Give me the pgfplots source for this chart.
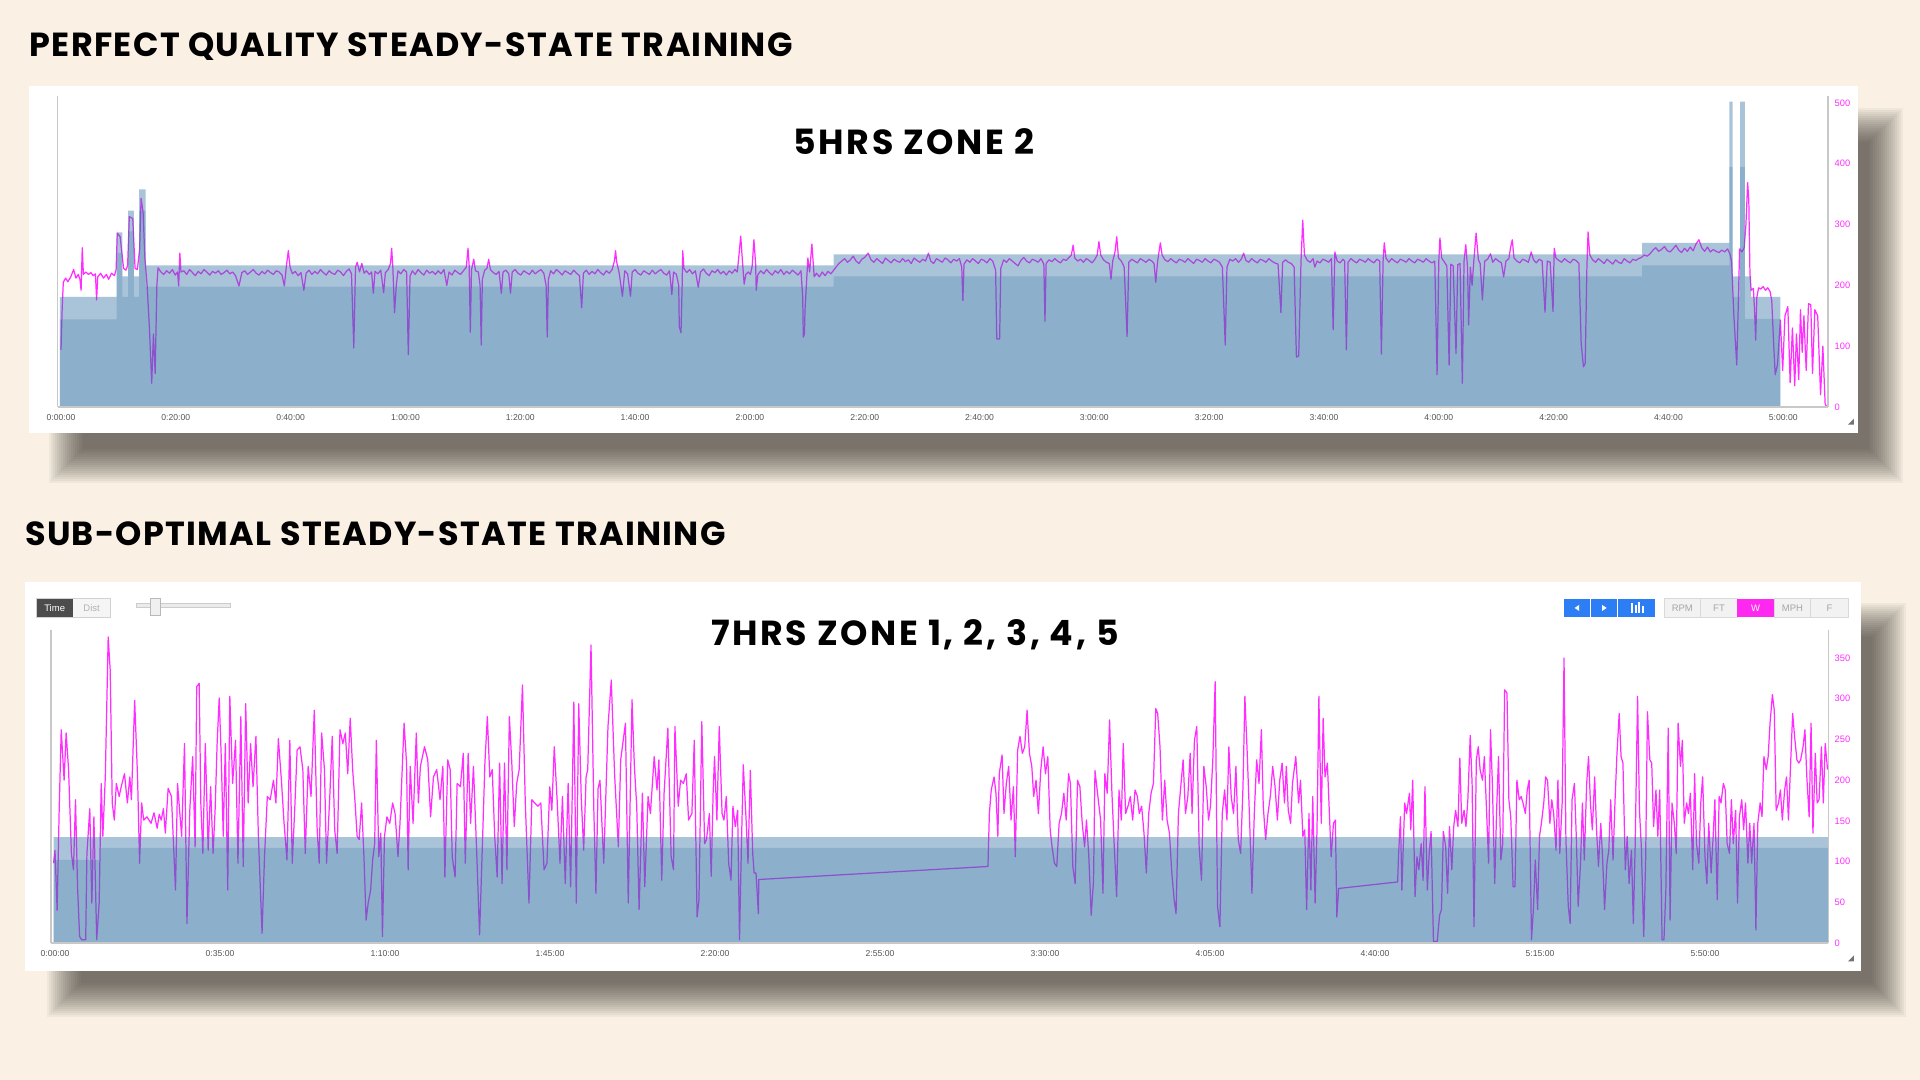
\documentclass[border=0pt]{standalone}
\usepackage{fontspec}
\usepackage{pgfplots}
\pgfplotsset{compat=1.18}
\setmainfont{Liberation Sans}
\newfontfamily\titlefont{Poppins}[LetterSpace=4]
\newfontfamily\paneltitlefont{Poppins}[LetterSpace=7.5]
\definecolor{bg}{RGB}{250,241,228}
\definecolor{shadowc}{RGB}{50,45,40}
\definecolor{zone}{RGB}{48,111,164}
\definecolor{pw}{RGB}{255,45,255}
\definecolor{axgray}{RGB}{200,200,200}
\definecolor{tickgray}{RGB}{85,85,85}
\definecolor{btnblue}{RGB}{45,125,245}
\definecolor{btnmag}{RGB}{255,40,240}
\newcommand\softshadow[4]{%
  \foreach \i in {0,...,17}{%
    \fill[shadowc, opacity=0.051] ({#1-17+2*\i},{#2-17+2*\i}) rectangle ({#3+17-2*\i},{#4+17-2*\i});
  }}
\begin{document}
\begin{tikzpicture}
\useasboundingbox (0,0) rectangle (19.2,10.8);
\fill[bg] (0,0) rectangle (19.2,10.8);
\begin{scope}[x=0.01cm, y=-0.01cm, shift={(0,10.8cm)}]
  \softshadow{66}{125}{1887}{466}
  \softshadow{64}{620}{1890}{1001}
  \fill[white] (29,86) rectangle (1859,433);
  \fill[white] (25,582) rectangle (1862,972);
  % titles
  \node[anchor=base west, inner sep=0pt] at (29,56.7) {\titlefont\bfseries\fontsize{9.5}{11}\selectfont PERFECT QUALITY STEADY-STATE TRAINING};
  \node[anchor=base west, inner sep=0pt] at (24.5,546) {\titlefont\bfseries\fontsize{9.5}{11}\selectfont SUB-OPTIMAL STEADY-STATE TRAINING};
  \node[anchor=base, inner sep=0pt] at (914.5,154.3) {\paneltitlefont\bfseries\fontsize{9.9}{11}\selectfont 5HRS ZONE 2};
  \node[anchor=base, inner sep=0pt] at (915.6,645.7) {\paneltitlefont\bfseries\fontsize{9.9}{11}\selectfont 7HRS ZONE 1, 2, 3, 4, 5};
  % toolbar left
  \fill[black!70] (36,599) rectangle (73.5,617.3);
  \node[text=white, font=\fontsize{2.7}{3}\selectfont] at (54.7,608.2) {Time};
  \fill[black!4] (73.5,599) rectangle (110,617.3);
  \draw[black!18, line width=0.2pt] (36,599) rectangle (110,617.3);
  \node[text=black!30, font=\fontsize{2.7}{3}\selectfont] at (91.7,608.2) {Dist};
  \fill[black!8] (136,603.5) rectangle (230.5,607.5);
  \draw[black!20, line width=0.2pt] (136,603.5) rectangle (230.5,607.5);
  \fill[black!6] (150,598.5) rectangle (160,615.5);
  \draw[black!28, line width=0.2pt] (150,598.5) rectangle (160,615.5);
  % toolbar right
  \fill[btnblue] (1565,599) rectangle (1591,617.7);
  \fill[btnblue] (1592,599) rectangle (1618,617.7);
  \fill[btnblue] (1619,599) rectangle (1655.5,617.7);
  \fill[white] (1575.5,608.3) -- (1580,605.3) -- (1580,611.3) -- cycle;
  \fill[white] (1603,605.3) -- (1603,611.3) -- (1607.5,608.3) -- cycle;
  \fill[white] (1632,603) rectangle (1634,613);
  \fill[white] (1635.5,605.5) rectangle (1637.5,613);
  \fill[white] (1639,602.5) rectangle (1641,613);
  \fill[white] (1642.5,606) rectangle (1644.5,613);
  \foreach \a/\b/\t in {1665/1701.6/RPM,1701.6/1738.4/FT,1775/1811.8/MPH,1811.8/1849.4/F}{
    \fill[black!5] (\a,599) rectangle (\b,617.7);
    \draw[black!15, line width=0.2pt] (\a,599) rectangle (\b,617.7);
    \node[text=black!35, font=\fontsize{2.7}{3}\selectfont] at ({(\a+\b)/2},608.3) {\t};
  }
  \fill[btnmag] (1738.4,599) rectangle (1775,617.7);
  \node[text=white, font=\fontsize{2.7}{3}\selectfont] at (1756.7,608.3) {W};
  % resize grips
  \fill[black!55] (1855,419) -- (1855,425) -- (1849,425) -- cycle;
  \fill[black!55] (1855,956) -- (1855,962) -- (1849,962) -- cycle;
\end{scope}

% ---------------- top chart ----------------
\begin{scope}
\clip (0,0) rectangle (18.50,10.8);
\begin{axis}[
  at={(0.575cm,6.73cm)}, anchor=south west,
  width=17.705cm, height=3.11cm, scale only axis,
  xmin=-0.61, xmax=307.8, ymin=0, ymax=511.5,
  axis line style={draw=none}, tick style={draw=none},
  xtick={0,20,...,300},
  xticklabels={0:00:00,0:20:00,0:40:00,1:00:00,1:20:00,1:40:00,2:00:00,2:20:00,2:40:00,3:00:00,3:20:00,3:40:00,4:00:00,4:20:00,4:40:00,5:00:00},
  ytick={0,100,...,500}, yticklabels={0,100,200,300,400,500},
  yticklabel pos=right,
  xticklabel style={font=\fontsize{2.45}{3}\selectfont, text=tickgray, anchor=center, yshift=-0.107cm},
  yticklabel style={font=\fontsize{2.65}{3}\selectfont, text=pw, anchor=west, inner sep=0pt, xshift=0.06cm},
  clip=false,
]
\addplot[pw, line width=0.35pt, line join=round] coordinates {
(0,94) (0.2,160) (0.4,205) (0.8,212) (1.2,206) (1.7,214) (2.2,226) (2.6,212) (3.0,218) (3.3,210) (3.5,192) (3.7,262) (3.9,218) (4.3,222) (4.8,218) (5.2,221) (5.6,216) (6.0,219) (6.2,176) (6.4,214) (6.9,220) (7.4,212) (7.9,218) (8.3,210) (8.8,220) (9.3,216) (9.6,226) (9.8,286) (10.3,280) (10.9,228) (11.3,225) (11.6,232) (11.9,313) (12.5,310) (12.9,228) (13.3,226) (13.7,260) (13.95,343) (14.3,320) (14.6,247) (15.0,200) (15.4,130) (15.8,39) (16.1,120) (16.4,55) (16.7,200) (16.9,229) (17.4,222) (17.9,218) (18.4,224) (18.9,220) (19.4,226) (19.9,217) (20.3,222) (20.5,199) (20.7,253) (20.9,222) (21.4,224) (21.9,218) (22.4,226) (22.9,221) (23.4,216) (23.9,223) (24.4,219) (24.9,226) (25.4,222) (25.9,217) (26.4,223) (26.9,220) (27.4,224) (27.9,218) (28.4,221) (28.9,225) (29.4,219) (29.9,222) (30.4,216) (31.0,199) (31.5,221) (32.0,224) (32.5,218) (33.0,222) (33.5,226) (34.0,220) (34.5,217) (35.0,223) (35.5,219) (36.0,225) (36.5,221) (37.0,218) (37.5,224) (38.0,222) (38.5,217) (38.9,199) (39.3,235) (39.6,257) (39.9,230) (40.3,219) (40.8,223) (41.3,216) (41.8,221) (42.3,192) (42.7,220) (43.2,225) (43.7,218) (44.2,223) (44.7,219) (45.2,226) (45.7,221) (46.2,217) (46.7,224) (47.2,220) (47.7,218) (48.2,225) (48.7,222) (49.2,216) (49.7,223) (50.2,227) (50.6,219) (51.0,97) (51.3,230) (51.6,238) (52.0,222) (52.4,236) (52.8,220) (53.2,224) (53.7,218) (54.1,222) (54.4,187) (54.7,223) (55.2,219) (55.7,225) (56.2,188) (56.5,221) (57.0,226) (57.4,236) (57.6,261) (57.8,230) (58.1,155) (58.4,200) (58.7,224) (59.2,219) (59.7,226) (60.2,222) (60.5,86) (60.8,215) (61.2,224) (61.7,218) (62.2,226) (62.7,221) (63.2,217) (63.7,225) (64.2,220) (64.7,223) (65.2,218) (65.7,224) (66.2,219) (66.7,226) (67.2,200) (67.6,222) (68.1,217) (68.6,225) (69.1,221) (69.6,218) (70.1,224) (70.6,230) (70.9,261) (71.1,232) (71.3,123) (71.5,225) (71.9,243) (72.2,224) (72.7,222) (73.0,200) (73.2,102) (73.4,210) (73.8,225) (74.2,228) (74.5,243) (74.8,226) (75.3,221) (75.8,218) (76.3,223) (76.7,187) (77.0,222) (77.5,225) (78.0,219) (78.3,187) (78.6,222) (79.1,226) (79.6,220) (80.1,217) (80.6,224) (81.1,221) (81.6,218) (82.1,225) (82.6,219) (83.1,223) (83.6,226) (84.1,220) (84.5,200) (84.7,115) (84.9,210) (85.3,224) (85.8,219) (86.3,226) (86.8,222) (87.3,217) (87.8,224) (88.3,221) (88.8,218) (89.3,225) (89.8,220) (90.3,216) (90.7,163) (91.0,220) (91.5,225) (92.0,218) (92.5,223) (93.0,219) (93.5,226) (94.0,221) (94.5,217) (95.0,224) (95.5,220) (96.0,226) (96.4,240) (96.6,257) (96.8,238) (97.2,222) (97.8,182) (98.2,224) (98.7,219) (99.2,182) (99.5,222) (100.0,226) (100.5,220) (101.0,217) (101.5,224) (102.0,221) (102.5,218) (103.0,225) (103.5,219) (104.0,223) (104.5,226) (105.0,220) (105.5,217) (106.0,224) (106.4,185) (106.7,222) (107.2,218) (107.6,200) (107.7,132) (108.0,122) (108.2,200) (108.3,257) (108.5,228) (109.0,221) (109.5,226) (110.0,219) (110.5,224) (111.0,197) (111.4,222) (111.9,227) (112.4,220) (112.9,216) (113.4,224) (113.9,221) (114.4,226) (114.9,219) (115.4,223) (115.9,217) (116.4,224) (116.9,220) (117.4,226) (117.8,222) (118.1,250) (118.4,281) (118.7,240) (119.0,202) (119.3,218) (119.7,222) (120.1,218) (120.4,232) (120.7,275) (121.0,235) (121.1,192) (121.4,218) (121.9,224) (122.4,219) (122.9,226) (123.4,221) (123.9,217) (124.4,224) (124.9,220) (125.4,226) (125.9,218) (126.4,223) (126.9,219) (127.4,225) (127.9,221) (128.4,217) (128.9,224) (129.2,180) (129.3,115) (129.5,120) (129.6,160) (130.1,245) (130.4,222) (130.8,268) (131.2,214) (131.6,220) (132.1,214) (132.6,222) (133.1,216) (133.6,223) (134.1,219) (134.6,225) (135.0,230) (135.5,236) (136.0,240) (136.5,244) (137.0,238) (137.5,242) (138.0,248) (138.5,240) (139.0,236) (139.5,243) (140.0,246) (140.6,253) (141.1,242) (141.6,238) (142.1,244) (142.6,240) (143.1,236) (143.6,245) (144.1,241) (144.6,237) (145.1,243) (145.6,240) (146.1,238) (146.6,244) (147.1,239) (147.6,242) (148.1,236) (148.6,245) (149.1,241) (149.6,238) (150.1,243) (150.6,240) (151.1,253) (151.5,240) (152.0,236) (152.5,244) (153.0,241) (153.5,238) (154.0,245) (154.5,242) (155.0,237) (155.5,243) (156.0,240) (156.5,244) (156.9,230) (157.1,175) (157.3,235) (157.8,242) (158.3,238) (158.8,244) (159.3,240) (159.8,236) (160.3,243) (160.8,241) (161.3,237) (161.8,244) (162.3,240) (162.8,225) (163.0,112) (163.5,112) (163.7,228) (164.2,242) (164.7,238) (165.2,244) (165.7,240) (166.2,236) (166.7,232) (167.2,241) (167.7,246) (168.2,240) (168.7,237) (169.2,243) (169.7,241) (170.2,238) (170.7,244) (171.2,235) (171.4,141) (171.6,236) (172.1,242) (172.6,239) (173.1,244) (173.6,240) (174.1,237) (174.6,243) (175.1,241) (175.6,246) (176.0,250) (176.3,266) (176.6,245) (177.1,240) (177.6,243) (178.1,238) (178.6,244) (179.1,241) (179.6,237) (180.1,243) (180.5,250) (180.8,272) (181.1,250) (181.6,242) (182.1,238) (182.6,236) (182.9,210) (183.2,240) (183.6,255) (183.9,280) (184.2,245) (184.7,240) (185.2,230) (185.7,116) (186.0,238) (186.5,243) (187.0,240) (187.5,237) (188.0,244) (188.5,241) (189.0,238) (189.5,243) (190.0,240) (190.4,236) (190.7,205) (191.0,238) (191.5,270) (191.8,250) (192.3,242) (192.8,239) (193.3,244) (193.8,240) (194.3,237) (194.8,243) (195.3,241) (195.8,238) (196.3,244) (196.8,240) (197.3,236) (197.8,243) (198.3,241) (198.8,238) (199.3,244) (199.8,240) (200.3,237) (200.8,243) (201.3,241) (201.8,238) (202.3,230) (202.8,102) (203.1,230) (203.6,243) (204.1,240) (204.6,244) (205.1,238) (205.6,243) (206.0,253) (206.4,241) (206.9,238) (207.4,244) (207.9,240) (208.4,237) (208.9,243) (209.4,241) (209.9,238) (210.4,244) (210.9,240) (211.4,237) (212.0,235) (212.5,155) (212.8,238) (213.3,242) (213.8,238) (214.3,236) (214.8,230) (215.2,82) (215.6,84) (216.0,240) (216.3,307) (216.6,250) (217.1,241) (217.6,238) (218.1,244) (218.4,230) (218.8,240) (219.3,237) (219.8,243) (220.3,241) (220.8,238) (221.3,244) (221.6,127) (221.9,255) (222.3,240) (222.8,237) (223.3,243) (223.6,240) (223.9,94) (224.2,238) (224.7,244) (225.2,240) (225.7,237) (226.2,243) (226.7,241) (227.2,238) (227.7,244) (228.2,240) (228.7,237) (229.2,243) (229.7,240) (230.0,87) (230.3,240) (230.5,270) (230.8,245) (231.3,238) (231.8,244) (232.3,240) (232.8,237) (233.3,243) (233.8,241) (234.3,238) (234.8,244) (235.3,240) (235.8,237) (236.3,243) (236.8,241) (237.3,238) (237.8,244) (238.3,240) (238.8,237) (239.3,240) (239.7,53) (240.0,240) (240.2,278) (240.5,245) (241.0,238) (241.4,232) (241.8,69) (242.1,235) (242.5,232) (243.0,88) (243.3,234) (243.7,236) (244.1,39) (244.4,240) (244.7,267) (245.0,230) (245.2,135) (245.5,230) (245.8,200) (246.1,240) (246.5,286) (246.9,242) (247.2,236) (247.6,176) (248.0,240) (248.5,243) (249.0,252) (249.4,238) (249.9,244) (250.4,240) (250.9,237) (251.3,214) (251.7,240) (252.2,244) (252.5,262) (252.8,275) (253.1,245) (253.6,240) (254.1,237) (254.6,243) (255.1,241) (255.6,238) (256.1,255) (256.5,242) (257.0,237) (257.5,243) (258.0,240) (258.5,156) (258.9,240) (259.4,238) (259.9,157) (260.1,261) (260.4,245) (260.9,241) (261.4,238) (261.9,244) (262.4,240) (262.9,237) (263.4,243) (263.9,241) (264.4,236) (264.8,105) (265.2,66) (265.5,72) (265.8,230) (266.0,288) (266.3,250) (266.8,242) (267.3,238) (267.8,244) (268.3,240) (268.8,236) (269.3,243) (269.8,239) (270.3,235) (270.8,242) (271.3,238) (271.8,236) (272.3,244) (272.8,240) (273.3,237) (273.8,243) (274.3,241) (274.8,244) (275.3,246) (275.8,250) (276.3,248) (276.8,252) (277.3,258) (277.8,262) (278.3,256) (278.8,259) (279.3,264) (279.8,257) (280.3,255) (280.8,260) (281.3,266) (281.8,258) (282.3,254) (282.8,261) (283.3,256) (283.8,263) (284.3,257) (284.8,268) (285.3,275) (285.8,262) (286.3,256) (286.8,263) (287.3,255) (287.8,259) (288.3,256) (288.8,254) (289.3,258) (289.8,255) (290.3,260) (290.7,252) (291.0,240) (291.4,150) (291.9,69) (292.2,180) (292.4,260) (292.8,255) (293.2,262) (293.5,300) (293.8,369) (294.0,340) (294.2,220) (294.4,192) (294.8,195) (295.0,160) (295.2,110) (295.4,180) (295.7,196) (296.1,194) (296.5,198) (296.9,192) (297.3,196) (297.7,190) (298.0,175) (298.3,110) (298.6,53) (299.0,70) (299.5,143) (299.9,60) (300.3,150) (300.8,165) (301.2,40) (301.6,130) (302.0,35) (302.3,120) (302.7,45) (303.0,160) (303.3,90) (303.6,150) (304.0,60) (304.4,170) (304.8,168) (305.1,55) (305.5,160) (306.0,150) (306.5,20) (306.9,100) (307.3,5) (307.6,0)
};
\addplot[draw=none, fill=zone, fill opacity=0.41] coordinates {
(-0.2,0)(-0.2,181)(9.7,181)(9.7,287)(10.7,287)(10.7,215)(11.7,215)(11.7,323)(12.7,323)(12.7,215)(13.6,215)(13.6,358)(14.75,358)(14.75,233)(134.6,233)(134.6,251)(275.4,251)(275.4,270)(290.6,270)(290.6,502)(291.2,502)(291.2,215)(292.5,215)(292.5,502)(293.3,502)(293.3,215)(294.4,215)(294.4,181)(299.5,181)(299.5,0)
} \closedcycle;
\addplot[draw=none, fill=zone, fill opacity=0.237] coordinates {
(-0.2,0)(-0.2,144)(9.7,144)(9.7,253)(10.7,253)(10.7,181)(11.7,181)(11.7,289)(12.7,289)(12.7,181)(13.6,181)(13.6,323)(14.75,323)(14.75,198)(134.6,198)(134.6,215)(275.4,215)(275.4,233)(290.6,233)(290.6,395)(291.2,395)(291.2,181)(292.5,181)(292.5,395)(293.3,395)(293.3,145)(299.5,145)(299.5,0)
} \closedcycle;
\draw[axgray, line width=0.3pt] (rel axis cs:0,1) -- (rel axis cs:0,0);
\draw[axgray, line width=0.3pt] (rel axis cs:1,1) -- (rel axis cs:1,0);
\draw[axgray, line width=0.45pt] (rel axis cs:0,0) -- (rel axis cs:1,0);
\end{axis}
\end{scope}

% ---------------- bottom chart ----------------
\begin{scope}
\clip (0,0) rectangle (18.50,10.8);
\begin{axis}[
  at={(0.51cm,1.37cm)}, anchor=south west,
  width=17.77cm, height=3.13cm, scale only axis,
  xmin=-0.85, xmax=376.1, ymin=0, ymax=384.5,
  axis line style={draw=none}, tick style={draw=none},
  xtick={0,35,...,350},
  xticklabels={0:00:00,0:35:00,1:10:00,1:45:00,2:20:00,2:55:00,3:30:00,4:05:00,4:40:00,5:15:00,5:50:00},
  ytick={0,50,...,350}, yticklabels={0,50,100,150,200,250,300,350},
  yticklabel pos=right,
  xticklabel style={font=\fontsize{2.45}{3}\selectfont, text=tickgray, anchor=center, yshift=-0.11cm},
  yticklabel style={font=\fontsize{2.65}{3}\selectfont, text=pw, anchor=west, inner sep=0pt, xshift=0.06cm},
  clip=false,
]
\addplot[pw, line width=0.35pt, line join=round] coordinates {
(-0.3,98)(0.0,114)(0.45,40)(0.89,165)(1.32,262)(1.93,200)(2.36,258)(2.88,213)(3.48,110)(3.92,90)(4.35,176)(4.78,69)(5.22,8)(5.65,4)(6.51,4)(6.77,110)(7.38,165)(7.81,49)(8.25,155)(8.85,4)(9.37,49)(9.8,196)(10.15,131)(10.67,204)(11.28,376)(11.71,335)(12.14,172)(12.58,151)(13.01,196)(13.61,180)(14.05,192)(14.74,208)(15.35,172)(15.87,204)(16.21,176)(16.9,298)(17.51,204)(17.94,98)(18.38,172)(18.81,151)(19.5,155)(20.37,147)(21.0,160)(21.67,141)(22.1,158)(22.53,151)(23.0,165)(23.4,135)(24.0,190)(24.7,180)(25.56,65)(25.99,196)(26.86,131)(27.47,245)(27.99,24)(28.59,163)(29.2,229)(29.72,118)(30.06,315)(30.58,319)(30.93,172)(31.36,110)(31.88,245)(32.49,114)(33.01,192)(33.53,110)(33.96,163)(34.39,245)(34.83,301)(35.26,229)(35.69,131)(36.13,245)(36.64,65)(37.08,303)(37.68,196)(38.29,249)(38.81,98)(39.42,278)(39.93,94)(40.45,294)(40.97,172)(41.49,245)(42.01,192)(42.62,254)(43.14,131)(43.92,12)(44.44,106)(45.04,180)(45.65,176)(46.34,200)(46.86,172)(47.38,251)(48.07,196)(48.59,147)(49.2,102)(49.81,249)(50.33,98)(50.84,163)(51.36,237)(51.97,241)(52.57,213)(53.09,110)(53.7,217)(54.31,180)(55.0,286)(55.61,139)(56.04,98)(56.56,258)(57.16,213)(57.6,98)(58.29,180)(58.81,254)(59.33,139)(59.85,110)(60.45,262)(61.06,245)(61.58,258)(62.1,208)(62.62,276)(63.14,213)(63.66,172)(64.09,131)(64.52,127)(65.04,172)(65.56,102)(65.99,28)(66.43,49)(66.95,65)(67.38,102)(67.81,122)(68.16,249)(68.68,106)(69.11,135)(69.46,8)(69.89,131)(70.41,155)(71.01,147)(71.62,172)(72.14,159)(72.75,106)(73.18,147)(74.05,270)(74.57,221)(74.91,90)(75.35,217)(75.95,147)(76.64,258)(77.08,172)(77.51,217)(78.38,241)(79.07,225)(79.67,155)(80.28,204)(80.97,213)(81.67,176)(82.27,217)(82.7,81)(83.31,225)(83.83,213)(84.26,106)(84.87,81)(85.3,196)(86.0,192)(86.6,233)(87.03,98)(87.64,233)(88.16,147)(88.76,217)(89.46,110)(90.06,10)(90.67,122)(91.19,221)(91.71,278)(92.23,204)(92.75,213)(93.27,131)(93.79,81)(94.31,221)(94.83,73)(95.35,221)(95.86,90)(96.38,278)(96.9,221)(97.42,143)(97.94,196)(98.46,213)(99.16,317)(99.76,172)(100.54,49)(101.15,176)(101.75,172)(102.44,168)(103.05,172)(103.74,90)(104.35,98)(104.95,192)(105.39,163)(105.9,241)(106.51,176)(107.12,98)(107.64,180)(108.24,73)(108.85,196)(109.37,69)(110.06,296)(110.58,49)(111.1,294)(111.62,180)(112.14,114)(112.66,204)(113.0,213)(113.7,366)(114.3,163)(114.74,61)(115.2,190)
(115.6,200)(116.4,98)(117.3,266)(118.0,323)(118.7,208)(119.5,118)(120.0,225)(121.0,270)(121.6,49)(122.4,299)(122.9,217)(123.4,168)(123.9,41)(124.6,184)(125.1,69)(125.8,180)(126.3,159)(127.1,229)(127.7,188)(128.1,225)(128.7,77)(129.2,184)(130.0,264)(130.7,106)(131.2,90)(131.5,266)(132.2,168)(132.7,200)(133.3,196)(133.9,208)(134.4,151)(135.1,159)(135.6,249)(136.2,32)(136.6,53)(137.2,272)(137.8,122)(138.2,127)(138.8,159)(139.2,82)(139.6,184)(139.9,229)(140.4,151)(140.9,266)(141.5,159)(141.9,151)(142.4,180)(142.9,98)(143.4,77)(143.8,168)(144.3,143)(144.8,163)(145.2,4)(145.6,118)(146.0,219)(146.6,151)(147.0,98)(147.5,212)(148.0,110)(148.3,86)(148.7,86)(149.2,36)(149.3,78)
(197.9,94)(198.2,159)(198.6,188)(199.2,204)(199.6,184)(200.0,131)(200.3,208)(200.9,231)(201.3,159)(201.8,196)(202.3,217)(202.8,151)(203.3,192)(203.7,106)(204.2,237)(204.7,254)(205.2,233)(205.7,241)(206.2,286)(206.7,233)(207.2,217)(207.6,180)(208.1,200)(208.6,159)(209.1,212)(209.6,241)(210.1,208)(210.6,229)(211.1,139)(211.5,118)(212.0,98)(212.5,94)(213.0,147)(213.5,159)(214.0,184)(214.5,151)(215.0,208)(215.4,196)(215.9,94)(216.4,73)(216.9,200)(217.4,192)(217.9,147)(218.4,118)(218.8,151)(219.3,106)(219.8,34)(220.3,77)(220.6,212)(221.3,176)(221.8,151)(222.3,61)(222.7,208)(223.2,184)(223.7,274)(224.2,184)(224.7,118)(225.2,57)(225.7,188)(226.2,151)(226.6,245)(227.1,159)(227.6,168)(228.1,180)(228.6,151)(229.1,188)(229.6,180)(230.0,159)(230.5,168)(231.0,135)(231.5,86)(232.0,159)(232.5,184)(233.0,196)(233.5,288)(233.9,282)(234.4,241)(234.9,151)(235.4,200)(235.9,151)(236.4,135)(236.9,86)(237.4,53)(237.8,36)(238.3,159)(238.8,192)(239.3,225)(239.8,159)(240.3,180)(240.8,233)(241.2,159)(241.7,249)(242.2,266)(242.7,118)(243.2,77)(243.7,217)(244.2,192)(244.7,151)(245.1,168)(245.6,225)(246.1,321)(246.6,45)(247.1,20)(247.6,159)(248.1,188)(248.6,151)(249.0,241)(249.5,180)(250.0,159)(250.5,217)(251.0,127)(251.5,110)(252.0,192)(252.4,303)(252.9,233)(253.4,151)(253.9,61)(254.4,159)(254.9,225)(255.4,196)(255.9,262)(256.3,168)(256.8,127)(257.3,159)(257.8,180)(258.3,217)(258.8,192)(259.3,151)(259.8,200)
(260.3,221)(260.8,172)(261.2,217)(261.6,163)(262.1,147)(262.5,196)(263.2,229)(263.8,172)(264.2,200)(264.7,131)(265.1,139)(265.5,41)(266.0,159)(266.4,65)(266.8,180)(267.3,49)(267.7,139)(268.1,303)(268.6,147)(269.0,276)(269.4,204)(269.9,221)(270.3,163)(270.7,106)(271.2,147)(271.6,151)(271.9,32)(272.3,67)(284.8,75)(285.0,108)(285.4,155)(285.7,65)(286.3,172)(286.7,159)(287.3,184)(287.6,139)(288.0,200)(288.5,57)(288.9,106)(289.3,90)(289.8,122)(290.2,77)(290.6,192)(291.1,65)(291.5,110)(291.9,137)(292.4,2)(293.2,2)(293.7,34)(294.1,41)(294.5,137)(295.0,118)(295.4,61)(295.8,143)(296.3,90)(296.7,143)(297.1,163)(297.6,143)(298.0,227)(298.4,147)(298.9,163)(299.3,143)(299.7,176)(300.2,255)(300.6,196)(301.0,20)(301.5,225)(301.9,241)(302.3,213)(302.8,200)(303.2,229)(303.6,172)(304.1,98)(304.5,262)(304.9,196)(305.4,73)(305.8,163)(306.2,229)(306.7,102)(307.1,122)(307.5,311)(308.0,307)(308.4,176)(308.8,155)(309.3,69)(309.7,69)(310.1,200)(310.6,176)(311.0,180)(311.4,172)(311.9,159)(312.3,188)(312.7,200)(313.2,4)(313.6,41)(314.0,102)(314.5,41)(314.9,131)(315.3,147)(315.8,172)(316.2,204)(316.6,200)(317.1,147)(317.5,176)(317.9,159)(318.4,114)(318.8,200)(319.2,110)(319.7,172)(320.1,350)(320.5,127)(321.0,45)(321.4,24)(321.8,176)(322.3,196)(322.7,131)(323.1,45)(323.6,98)(324.0,172)(324.4,102)(324.9,196)(325.3,229)(325.7,172)(326.1,139)(326.6,204)(327.0,139)(327.4,94)(327.9,147)(328.3,102)(328.7,41)(329.2,98)(329.6,114)(330.0,176)(330.5,102)(330.9,172)(331.3,229)(331.8,282)(332.2,229)(332.6,221)(333.1,90)(333.5,131)(333.9,73)(334.4,114)(334.8,24)(335.2,122)(335.7,303)(336.1,163)(336.5,118)(337.0,8)(337.4,98)(337.8,284)(338.3,225)(338.7,221)(339.1,143)(339.6,188)(340.0,131)(340.4,188)(340.9,4)(341.3,4)(341.7,65)(342.2,264)(342.6,28)(343.0,172)(343.5,147)(343.9,110)(344.3,270)(344.8,217)(345.2,249)(345.6,147)(346.1,172)(346.5,159)(346.9,184)(347.4,90)(347.8,208)(348.2,122)(348.7,98)(349.1,172)(349.5,204)(350.0,106)(350.4,73)(350.8,147)(351.3,86)(351.7,127)(352.1,176)(352.6,53)(353.0,180)(353.4,172)(353.9,196)(354.3,188)(354.7,122)(355.2,110)(355.6,176)(356.0,122)(356.5,163)(356.9,49)(357.3,155)(357.8,176)(358.2,139)(358.6,172)(359.1,98)(359.5,147)(359.9,98)(360.4,147)(360.8,16)(361.2,147)(361.7,172)(362.1,155)(362.5,229)(363.0,213)(363.4,229)(363.8,270)(364.3,305)(364.7,286)(365.1,163)(365.6,172)(366.0,188)(366.4,151)(366.9,188)(367.3,204)(367.7,151)(368.2,225)(368.6,282)(369.0,254)(369.5,225)(369.9,221)(370.3,225)(370.8,241)(371.2,262)(371.6,204)(372.1,155)(372.5,270)(372.9,135)(373.4,233)(373.8,172)(374.2,176)(374.7,241)(375.1,172)(375.5,245)(376.0,213)
};
\addplot[draw=none, fill=zone, fill opacity=0.41] coordinates {
(-0.3,0)(-0.3,130)(376.1,130)(376.1,0)
} \closedcycle;
\addplot[draw=none, fill=zone, fill opacity=0.237] coordinates {
(-0.3,0)(-0.3,102)(9.5,102)(9.5,117)(376.1,117)(376.1,0)
} \closedcycle;
\draw[axgray, line width=0.3pt] (rel axis cs:0,1) -- (rel axis cs:0,0);
\draw[axgray, line width=0.3pt] (rel axis cs:1,1) -- (rel axis cs:1,0);
\draw[axgray, line width=0.5pt] (rel axis cs:0,0) -- (rel axis cs:1,0);
\end{axis}
\end{scope}
\end{tikzpicture}
\end{document}
